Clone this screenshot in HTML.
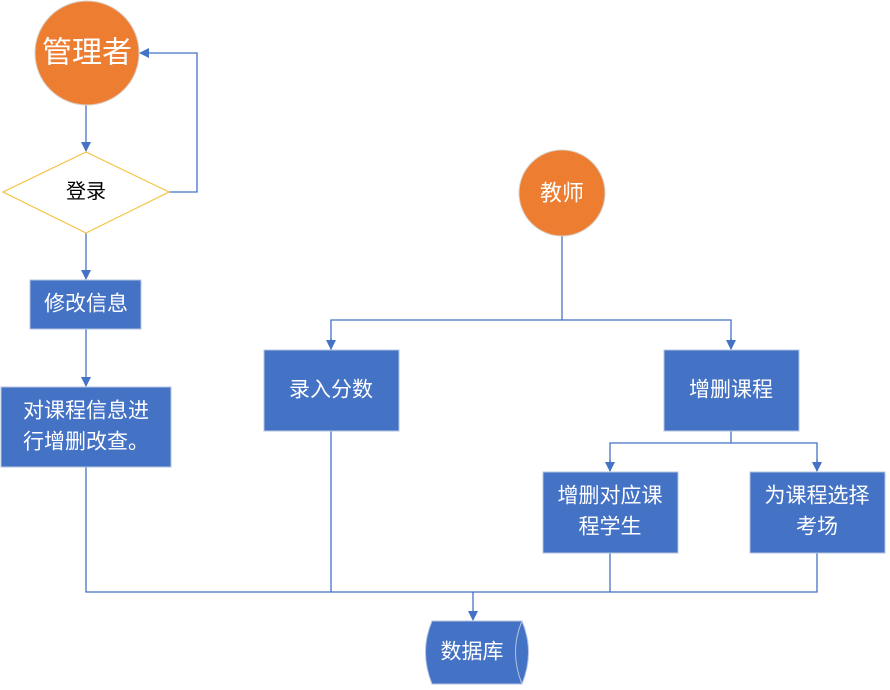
<!DOCTYPE html>
<html><head><meta charset="utf-8"><style>
body{margin:0;background:#fff}
svg text{font-family:"Liberation Sans","Noto Sans CJK SC",sans-serif;text-anchor:middle;dominant-baseline:central}
</style></head><body>
<svg width="890" height="685" viewBox="0 0 890 685" xmlns="http://www.w3.org/2000/svg">
<defs><marker id="a" markerWidth="10" markerHeight="10" refX="9" refY="5" orient="auto" markerUnits="userSpaceOnUse"><path d="M0,0 L10,5 L0,10 z" fill="#4472C4"/></marker></defs>
<g fill="none" stroke="#4472C4" stroke-width="1.3">
<line x1="86" y1="105" x2="86" y2="151" marker-end="url(#a)"/>
<polyline points="169,192 197,192 197,53 140,53" marker-end="url(#a)"/>
<line x1="86" y1="233" x2="86" y2="279" marker-end="url(#a)"/>
<line x1="86" y1="329" x2="86" y2="386" marker-end="url(#a)"/>
<line x1="562" y1="236" x2="562" y2="320"/>
<polyline points="331,350 331,320 731,320 731,349" />
<line x1="331" y1="338" x2="331" y2="349" marker-end="url(#a)"/>
<line x1="731" y1="338" x2="731" y2="349" marker-end="url(#a)"/>
<line x1="731" y1="431" x2="731" y2="443"/>
<polyline points="610,471 610,443 817,443 817,471"/>
<line x1="610" y1="460" x2="610" y2="471" marker-end="url(#a)"/>
<line x1="817" y1="460" x2="817" y2="471" marker-end="url(#a)"/>
<polyline points="86,467 86,592 817,592 817,553"/>
<line x1="331" y1="431" x2="331" y2="592"/>
<line x1="610" y1="553" x2="610" y2="592"/>
<line x1="473" y1="592" x2="473" y2="620" marker-end="url(#a)"/>
</g>
<circle cx="87" cy="53" r="52" fill="#ED7D31" stroke="#d9cfc6" stroke-width="1"/>
<text x="87" y="53" fill="#fff" font-size="30">管理者</text>
<polygon points="86,152 169,192 86,233 3,192" fill="#fff" stroke="#F5C242" stroke-width="1.2"/>
<text x="86" y="192" font-size="20" fill="#000">登录</text>
<g fill="#4472C4" stroke="#b4c4e2" stroke-width="1">
<rect x="30" y="280" width="111" height="49"/>
<rect x="1" y="387" width="170" height="80"/>
<rect x="264" y="350" width="135" height="81"/>
<rect x="664" y="350" width="135" height="81"/>
<rect x="543" y="472" width="135" height="81"/>
<rect x="750" y="472" width="135" height="81"/>
</g>
<circle cx="562" cy="193" r="43" fill="#ED7D31" stroke="#d9cfc6" stroke-width="1"/>
<text x="562" y="193" fill="#fff" font-size="22">教师</text>
<g fill="#fff" font-size="21">
<text x="86" y="304">修改信息</text>
<text x="86" y="411">对课程信息进</text>
<text x="86" y="442">行增删改查。</text>
<text x="331" y="390">录入分数</text>
<text x="731" y="390">增删课程</text>
<text x="610" y="496">增删对应课</text>
<text x="610" y="527">程学生</text>
<text x="817" y="496">为课程选择</text>
<text x="817" y="527">考场</text>
</g>
<path d="M432,621 L522,621 Q535,652 522,684 L432,684 Q419,652 432,621 z" fill="#4472C4" stroke="#b4c4e2" stroke-width="1"/>
<path d="M522,621 Q509,652 522,684" fill="none" stroke="#b4c4e2" stroke-width="1"/>
<text x="472" y="652" fill="#fff" font-size="21">数据库</text>
</svg>
</body></html>
